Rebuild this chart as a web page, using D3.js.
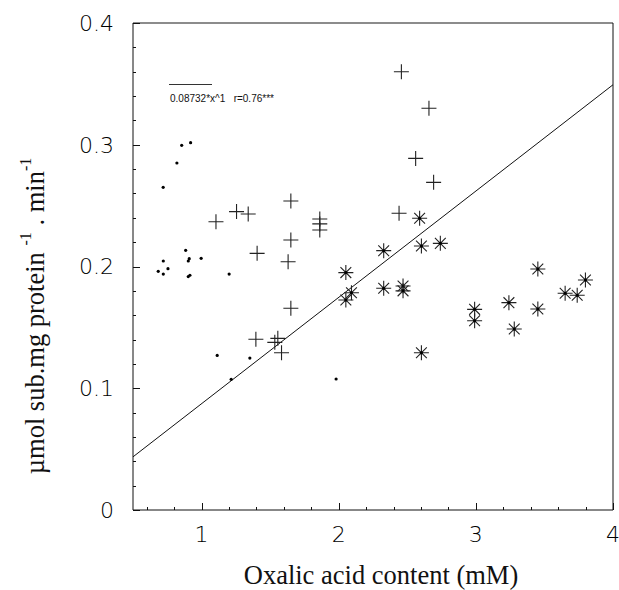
<!DOCTYPE html>
<meta charset="utf-8">
<style>
body { margin: 0; background: #fff; }
.tick-label { font-family: "DejaVu Sans", "Liberation Sans", sans-serif; font-weight: 200; font-size: 22px; fill: #000; }
.title { font-family: "Liberation Serif", "Times New Roman", serif; font-size: 26.5px; fill: #111; }
.legend { font-family: "Liberation Sans", Arial, sans-serif; font-size: 10px; fill: #111; }
</style>
<body>
<script src="https://cdn.jsdelivr.net/npm/d3@7"></script>
<script>

var width = 619,
    height = 590;

var margin = {top: 23, right: 6, bottom: 80, left: 133};

// small dots
var dotX = [0.72, 0.82, 0.855, 0.92, 0.684, 0.721, 0.721, 0.755, 0.884, 0.91, 0.903, 0.903, 0.915, 0.997, 1.201, 1.114, 1.352, 1.216, 1.981];
var dotY = [0.265, 0.285, 0.2995, 0.3017, 0.196, 0.2045, 0.1938, 0.1982, 0.2133, 0.2064, 0.2045, 0.1917, 0.1928, 0.2067, 0.1938, 0.127, 0.1248, 0.1073, 0.1076];

// plus markers
var plusX = [2.457, 2.658, 2.561, 2.692, 2.44, 1.105, 1.255, 1.34, 1.651, 1.862, 1.862, 1.862, 1.651, 1.405, 1.631, 1.651, 1.396, 1.534, 1.556, 1.583];
var plusY = [0.360, 0.330, 0.2888, 0.2691, 0.2437, 0.2368, 0.2451, 0.2431, 0.2538, 0.239, 0.235, 0.230, 0.2218, 0.2108, 0.2039, 0.1657, 0.1402, 0.1377, 0.141, 0.1292];

// asterisk markers
var starX = [2.59, 2.328, 2.603, 2.741, 2.052, 2.093, 2.052, 2.328, 2.469, 2.469, 2.991, 2.991, 3.241, 3.28, 3.452, 3.452, 3.651, 3.739, 3.799, 2.603];
var starY = [0.2396, 0.213, 0.2168, 0.219, 0.195, 0.1785, 0.1725, 0.1821, 0.184, 0.180, 0.1648, 0.1555, 0.1703, 0.1487, 0.1979, 0.1651, 0.178, 0.1764, 0.1889, 0.1292];

var slope = 0.08732;
var xTicks = [1, 2, 3, 4];
var yTicks = [0, 0.1, 0.2, 0.3, 0.4];

var x = d3.scaleLinear().domain([0.5, 4]).range([margin.left, width - margin.right]);
var y = d3.scaleLinear().domain([0, 0.4]).range([height - margin.bottom, margin.top]);

var svg = d3.select("body").append("svg")
    .attr("width", width)
    .attr("height", height);

// frame: top grey, right black
svg.append("line")
    .attr("x1", x(0.5)).attr("x2", x(4))
    .attr("y1", y(0.4)).attr("y2", y(0.4))
    .style("stroke", "#666").style("stroke-width", 1.6);
svg.append("line")
    .attr("x1", x(4)).attr("x2", x(4))
    .attr("y1", y(0.4)).attr("y2", y(0))
    .style("stroke", "#111").style("stroke-width", 1);

// y axis with inward ticks
var yAxis = svg.append("g").attr("transform", "translate(" + x(0.5) + ",0)");
yAxis.append("line").attr("y1", y(0)).attr("y2", y(0.4)).style("stroke", "#111");
yAxis.selectAll(".ytick").data(d3.range(0, 21))
  .enter().append("line")
    .attr("x1", 0)
    .attr("x2", function(d) { return d % 5 == 0 ? 7 : 3; })
    .attr("y1", function(d) { return Math.round(y(d * 0.02)) + 0.5; })
    .attr("y2", function(d) { return Math.round(y(d * 0.02)) + 0.5; })
    .style("stroke", "#111");
yAxis.selectAll(".tick-label").data(yTicks)
  .enter().append("text")
    .attr("class", "tick-label")
    .attr("x", -19)
    .attr("y", function(d) { return y(d); })
    .attr("dy", "0.36em")
    .attr("text-anchor", "end")
    .text(function(d) { return d === 0 ? "0" : d3.format(".1f")(d); });

// x axis with inward ticks
var xAxis = svg.append("g").attr("transform", "translate(0," + y(0) + ")");
xAxis.append("line").attr("x1", x(0.5)).attr("x2", x(4)).style("stroke", "#111");
xAxis.selectAll(".xtick").data(d3.range(3, 21))
  .enter().append("line")
    .attr("x1", function(d) { return Math.round(x(d * 0.2)) + 0.5; })
    .attr("x2", function(d) { return Math.round(x(d * 0.2)) + 0.5; })
    .attr("y1", 0)
    .attr("y2", function(d) { return d % 5 == 0 ? -7 : -3; })
    .style("stroke", "#111");
xAxis.selectAll(".tick-label").data(xTicks)
  .enter().append("text")
    .attr("class", "tick-label")
    .attr("x", function(d) { return x(d); })
    .attr("y", 24)
    .attr("dy", "0.36em")
    .attr("text-anchor", "middle")
    .text(function(d) { return d; });

// axis titles
svg.append("text")
    .attr("class", "title")
    .attr("x", 381)
    .attr("y", 584)
    .attr("text-anchor", "middle")
    .text("Oxalic acid content (mM)");

var yt = svg.append("text")
    .attr("class", "title")
    .attr("transform", "translate(44,316)rotate(-90)")
    .attr("text-anchor", "middle");
yt.append("tspan").text("\u00b5mol sub.mg protein ");
yt.append("tspan").attr("dy", -13).style("font-size", "16px").text("-1");
yt.append("tspan").attr("dy", 13).text(" . min");
yt.append("tspan").attr("dy", -13).style("font-size", "16px").text("-1");

// regression line y = slope * x
var line = d3.line()
    .x(function(d) { return x(d); })
    .y(function(d) { return y(slope * d); });

svg.append("path")
    .datum([0.5, 4])
    .attr("d", line)
    .style("fill", "none")
    .style("stroke", "#111")
    .style("stroke-width", 1);

// legend
svg.append("line")
    .attr("x1", 169).attr("x2", 212)
    .attr("y1", 84.5).attr("y2", 84.5)
    .style("stroke", "#333").style("stroke-width", 1);
svg.append("text")
    .attr("class", "legend")
    .attr("x", 170)
    .attr("y", 102)
    .attr("xml:space", "preserve")
    .text("0.08732*x^1   r=0.76***");

// markers
var dots = dotX.map(function(v, i) { return [v, dotY[i]]; });
var pluses = plusX.map(function(v, i) { return [v, plusY[i]]; });
var stars = starX.map(function(v, i) { return [v, starY[i]]; });

svg.selectAll(".dot").data(dots)
  .enter().append("circle")
    .attr("cx", function(d) { return x(d[0]); })
    .attr("cy", function(d) { return y(d[1]); })
    .attr("r", 1.6)
    .style("fill", "#000");

var r = 7.5;
var plusPath = "M" + -r + ",0H" + r + "M0," + -r + "V" + r;
svg.selectAll(".plus").data(pluses)
  .enter().append("path")
    .attr("transform", function(d) { return "translate(" + x(d[0]) + "," + y(d[1]) + ")"; })
    .attr("d", plusPath)
    .style("stroke", "#222")
    .style("stroke-width", 1.1)
    .style("fill", "none");

var k = r * 0.72;
var starPath = plusPath + "M" + -k + "," + -k + "L" + k + "," + k + "M" + -k + "," + k + "L" + k + "," + -k;
var starG = svg.selectAll(".star").data(stars)
  .enter().append("g")
    .attr("transform", function(d) { return "translate(" + x(d[0]) + "," + y(d[1]) + ")"; });
starG.append("path")
    .attr("d", starPath)
    .style("stroke", "#222")
    .style("stroke-width", 1.1)
    .style("fill", "none");
starG.append("circle")
    .attr("r", 1.5)
    .style("fill", "#000");

</script>
</body>
